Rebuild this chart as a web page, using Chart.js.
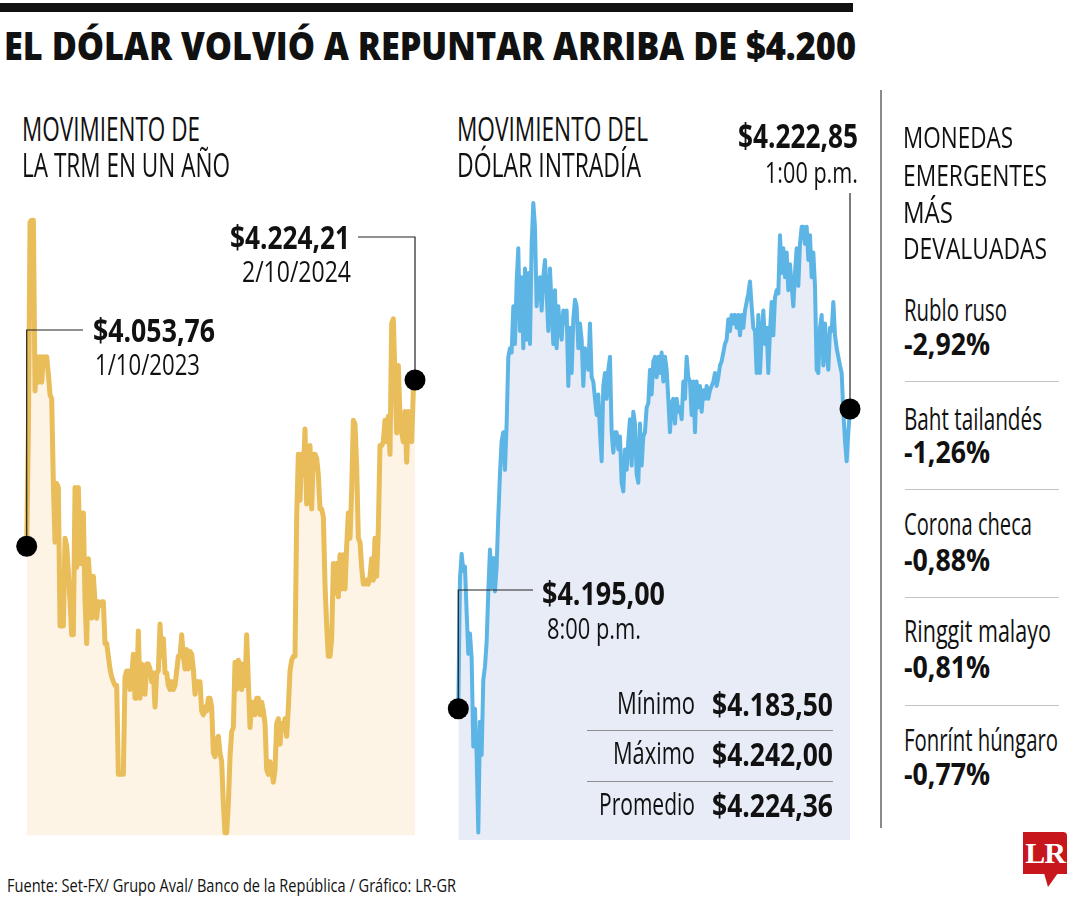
<!DOCTYPE html>
<html>
<head>
<meta charset="utf-8">
<script src="https://cdn.jsdelivr.net/npm/chart.js@4.4.1/dist/chart.umd.min.js"></script>
<style>
  html, body { margin: 0; padding: 0; background: #ffffff; }
  #page { position: relative; width: 1080px; height: 900px; overflow: hidden; background: #fff; }
  .t { position: absolute; white-space: nowrap; font-family: "Open Sans", "Noto Sans", "DejaVu Sans", sans-serif;
       line-height: 1; color: #111; transform-origin: 0 0; font-weight: 500; }
  .b { font-weight: 700; }
  .h { font-weight: 800; }
  .hr { position: absolute; height: 0; border-top: 1px solid #9a9a9a; }
  canvas { position: absolute; }
</style>
</head>
<body>
<div id="page">
  <div style="position:absolute;left:0;top:3px;width:853px;height:9px;background:#111;"></div>
  <div style="position:absolute;left:880px;top:90px;width:2px;height:738px;background:#8a8a8a;"></div>
  <canvas id="trm" width="440" height="680" style="left:0;top:180px;"></canvas>
  <canvas id="intra" width="440" height="710" style="left:440px;top:150px;"></canvas>
  <div id="logo" style="position:absolute;left:1023px;top:832px;width:44px;height:42px;background:#c8161d;border-top-right-radius:4px;"></div>
  <div style="position:absolute;left:1044px;top:873px;width:0;height:0;border-left:4px solid transparent;border-right:10px solid transparent;border-top:14px solid #c8161d;"></div>
  <div style="position:absolute;left:1023px;top:837px;width:44px;text-align:center;font-family:'Liberation Serif','DejaVu Serif',serif;font-weight:700;font-size:30px;line-height:32px;color:#fff;letter-spacing:-1px;">LR</div>
</div>
<script>
// ---------------- DATA ----------------
const trmTitleLines = ["MOVIMIENTO DE", "LA TRM EN UN AÑO"];
const intraTitleLines = ["MOVIMIENTO DEL", "DÓLAR INTRADÍA"];

// TRM over one year (COP per USD), 1/10/2023 -> 2/10/2024
const trmValues = [
 4053.76,4170,4386,4388,4388,4213,4248,4222,4248,4222,4248,4239,4248,4230,4209,4205,4118,4058,4118,4114,
 3972,3972,3972,4062,4054,4028,3997,3963,3963,4114,4032,4114,4036,4088,4088,3997,3954,4041,4015,3980,
 4023,3997,3980,3997,3993,3997,3997,3954,3954,3941,3928,3920,3915,3911,3911,3820,3820,3820,3820,3920,
 3926,3926,3907,3920,3943,3898,3898,3967,3898,3933,3928,3902,3933,3933,3928,3915,3924,3889,3924,3926,
 3974,3941,3959,3924,3924,3911,3907,3915,3907,3911,3926,3941,3941,3963,3941,3928,3948,3928,3946,3943,
 3928,3902,3915,3915,3915,3885,3881,3889,3885,3898,3898,3889,3842,3838,3855,3859,3842,3833,3790,3760,
 3760,3790,3838,3864,3868,3935,3907,3937,3933,3907,3933,3911,3963,3915,3868,3894,3894,3881,3898,3898,
 3881,3894,3885,3872,3825,3820,3833,3825,3812,3825,3872,3877,3851,3872,3868,3877,3859,3889,3926,3937,
 3941,3941,4084,4148,4101,4148,4127,4174,4097,4127,4157,4092,4148,4148,4144,4127,4092,4092,4084,4015,
 3972,3941,3941,3959,4036,4006,4036,4002,4045,4010,4045,4010,4054,4088,4062,4110,4183,4179,4136,4062,
 4058,4032,4015,4015,4019,4015,4023,4041,4019,4062,4023,4071,4157,4157,4161,4183,4161,4187,4148,4282,
 4287,4226,4170,4239,4187,4170,4161,4192,4140,4192,4187,4161,4213,4224.21
];
const trmStart = { value: "$4.053,76", date: "1/10/2023" };
const trmEnd = { value: "$4.224,21", date: "2/10/2024" };

// Intraday dollar (COP per USD)
const intraValues = [
 4195.0,4207.1,4209.4,4207.8,4208.2,4204.0,4200.1,4202.0,4199.7,4191.5,4195.0,4190.7,4183.5,4193.8,4190.7,4197.7,4198.9,4201.2,4205.9,4209.8,
 4206.3,4209.0,4205.9,4208.2,4212.9,4216.8,4219.9,4220.7,4217.2,4221.5,4227.7,4228.5,4228.1,4232.4,4228.9,4234.7,4237.8,4230.1,4235.1,4228.5,
 4235.9,4229.3,4235.5,4228.9,4238.2,4242.0,4239.8,4232.4,4234.3,4235.1,4232.0,4235.1,4236.7,4233.6,4230.1,4235.9,4232.4,4228.9,4233.9,4228.5,
 4232.4,4230.4,4229.3,4232.0,4230.8,4232.0,4225.0,4230.4,4226.2,4231.2,4233.0,4232.4,4228.5,4230.8,4229.3,4225.0,4228.5,4227.3,4226.5,4230.8,
 4225.8,4225.4,4223.8,4222.3,4224.2,4220.7,4218.0,4225.0,4226.2,4223.8,4226.5,4227.7,4220.7,4218.8,4220.7,4220.7,4219.1,4220.3,4216.0,4215.2,
 4219.1,4217.2,4219.9,4221.9,4217.6,4222.6,4221.5,4216.8,4216.0,4221.5,4217.6,4220.3,4220.7,4223.0,4223.4,4226.5,4224.2,4227.3,4227.7,4225.8,
 4227.7,4226.2,4228.1,4225.4,4227.7,4226.5,4223.8,4220.7,4223.4,4223.8,4221.5,4223.8,4222.6,4223.0,4221.9,4225.4,4223.8,4227.7,4225.8,4225.4,
 4222.3,4225.4,4220.7,4225.4,4223.0,4225.0,4222.6,4224.6,4223.8,4225.0,4223.8,4224.6,4225.0,4225.4,4226.2,4225.0,4225.8,4226.9,4227.3,4228.1,
 4228.9,4229.3,4231.2,4230.1,4231.6,4230.8,4231.6,4230.4,4231.6,4229.7,4231.6,4230.4,4232.0,4232.8,4233.6,4234.7,4232.4,4230.4,4230.1,4226.2,
 4231.6,4226.2,4229.7,4232.0,4228.9,4230.4,4226.2,4230.1,4232.8,4229.7,4233.2,4233.9,4233.6,4239.0,4235.5,4237.8,4235.1,4237.4,4233.9,4236.3,
 4234.3,4232.4,4235.5,4237.8,4234.3,4238.2,4239.8,4239.8,4238.2,4239.8,4236.7,4239.0,4235.1,4237.4,4234.3,4226.5,4226.2,4230.4,4231.6,4226.9,
 4230.8,4228.1,4226.5,4230.4,4230.1,4232.8,4229.7,4228.5,4227.7,4226.9,4226.2,4222.6,4219.9,4218.0,4220.7,4222.85
];
const intraStart = { value: "$4.195,00", time: "8:00 p.m." };
const intraEnd = { value: "$4.222,85", time: "1:00 p.m." };
const statLabels = ["Mínimo", "Máximo", "Promedio"];
const statValues = ["$4.183,50", "$4.242,00", "$4.224,36"];

const currencyTitle = ["MONEDAS", "EMERGENTES", "MÁS", "DEVALUADAS"];
const currencyNames = ["Rublo ruso", "Baht tailandés", "Corona checa", "Ringgit malayo", "Fonrínt húngaro"];
const currencyChanges = ["-2,92%", "-1,26%", "-0,88%", "-0,81%", "-0,77%"];

const titleText = "EL DÓLAR VOLVIÓ A REPUNTAR ARRIBA DE $4.200";
const sourceText = "Fuente: Set-FX/ Grupo Aval/ Banco de la República / Gráfico: LR-GR";

// ---------------- TEXT LAYOUT ----------------
const page = document.getElementById('page');
const texts = [];
function addText(str, x, baseline, w, fs, cls) {
  const el = document.createElement('div');
  el.className = 't' + (cls ? ' ' + cls : '');
  el.textContent = str;
  el.style.fontSize = fs + 'px';
  el.style.left = x + 'px';
  el.style.top = (baseline - 0.888 * fs) + 'px';
  page.appendChild(el);
  texts.push([el, w]);
  return el;
}
addText(titleText, 4, 60, 852, 39, 'h');
addText(trmTitleLines[0], 22, 141, 178, 32);
addText(trmTitleLines[1], 22, 177, 208, 32);
addText(intraTitleLines[0], 457, 141, 191, 32);
addText(intraTitleLines[1], 457, 177, 184, 32);
addText(intraEnd.value, 738, 148, 120, 34, 'b');
addText(intraEnd.time, 765, 184, 93, 30);
addText(trmStart.value, 93, 342, 122, 32, 'b');
addText(trmStart.date, 95, 376, 105, 30);
addText(trmEnd.value, 230, 249, 120, 32, 'b');
addText(trmEnd.date, 242, 283, 109, 30);
addText(intraStart.value, 542, 605, 123, 32, 'b');
addText(intraStart.time, 547, 640, 94, 30);
const statLabelX = [617, 613, 599];
const statBase = [715, 765, 816];
statLabels.forEach((s, i) => {
  addText(s, statLabelX[i], statBase[i], 695 - statLabelX[i], 31);
  addText(statValues[i], 712, statBase[i] + 1, 121, 32, 'b');
});
[730, 781].forEach(y => {
  const d = document.createElement('div'); d.className = 'hr';
  d.style.left = '587px'; d.style.top = y + 'px'; d.style.width = '246px'; d.style.borderTop = '1.5px solid #8f8f8f';
  page.appendChild(d);
});
const ctW = [110, 144, 50, 144];
const ctB = [148, 186, 223, 259];
currencyTitle.forEach((s, i) => addText(s, 903, ctB[i], ctW[i], 29));
const nameW = [103, 138, 128, 147, 154];
const nameB = [322, 431, 536, 643, 752];
const chgB = [356, 464, 572, 679, 786];
const chgW = [86, 86, 86, 86, 86];
currencyNames.forEach((s, i) => {
  addText(s, 904, nameB[i], nameW[i], 31);
  addText(currencyChanges[i], 904, chgB[i], chgW[i], 30, 'b');
});
[381, 489, 597, 705].forEach(y => {
  const d = document.createElement('div'); d.className = 'hr';
  d.style.left = '905px'; d.style.top = y + 'px'; d.style.width = '154px'; d.style.borderTop = '1px solid #c4c4c4';
  page.appendChild(d);
});
addText(sourceText, 7, 892, 449, 18);

function fitAll() {
  texts.forEach(([el, w]) => {
    el.style.transform = 'none';
    const nat = el.getBoundingClientRect().width;
    if (nat > 0) el.style.transform = 'scaleX(' + (w / nat) + ')';
  });
}
fitAll();
if (document.fonts && document.fonts.ready) document.fonts.ready.then(fitAll);

// ---------------- CHARTS ----------------
const markerPlugin = {
  id: 'markers',
  afterDatasetsDraw(chart, args, opts) {
    const meta = chart.getDatasetMeta(0);
    const pts = [meta.data[0], meta.data[meta.data.length - 1]];
    const ctx = chart.ctx;
    ctx.save();
    ctx.strokeStyle = '#222';
    ctx.lineWidth = 1.2;
    opts.leaders.forEach((ld, i) => {
      const p = pts[i];
      ctx.beginPath();
      ctx.moveTo(p.x, p.y);
      ctx.lineTo(p.x, ld.y);
      if (ld.x !== null) ctx.lineTo(ld.x, ld.y);
      ctx.stroke();
    });
    ctx.fillStyle = '#000';
    pts.forEach(p => {
      ctx.beginPath();
      ctx.arc(p.x, p.y, 10.5, 0, Math.PI * 2);
      ctx.fill();
    });
    ctx.restore();
  }
};

function makeChart(id, values, color, fillColor, width, yMin, yMax, pad, leaders) {
  return new Chart(document.getElementById(id), {
    type: 'line',
    data: {
      labels: values.map((_, i) => i),
      datasets: [{
        data: values,
        borderColor: color,
        backgroundColor: fillColor,
        borderWidth: width,
        fill: 'start',
        pointRadius: 0,
        tension: 0,
        borderJoinStyle: 'round',
        clip: false
      }]
    },
    options: {
      responsive: false,
      animation: false,
      layout: { padding: pad },
      plugins: { legend: { display: false }, tooltip: { enabled: false }, markers: { leaders } },
      scales: {
        x: { type: 'category', display: false, offset: false },
        y: { display: false, min: yMin, max: yMax }
      }
    },
    plugins: [markerPlugin]
  });
}

// left chart: canvas at (0,180)
makeChart('trm', trmValues, '#e8bd5a', '#fdf4e6', 5, 3757, 4400,
  { left: 26.7, right: 25, top: 28.5, bottom: 24.2 },
  [{ y: 330 - 180, x: 83 }, { y: 237 - 180, x: 358 }]);

// right chart: canvas at (440,150)
makeChart('intra', intraValues, '#5db5e6', '#e8ecf7', 4, 4182.8, 4245,
  { left: 18.3, right: 30, top: 20.7, bottom: 20 },
  [{ y: 590 - 150, x: 533 - 440 }, { y: 193 - 150, x: null }]);
</script>
</body>
</html>
